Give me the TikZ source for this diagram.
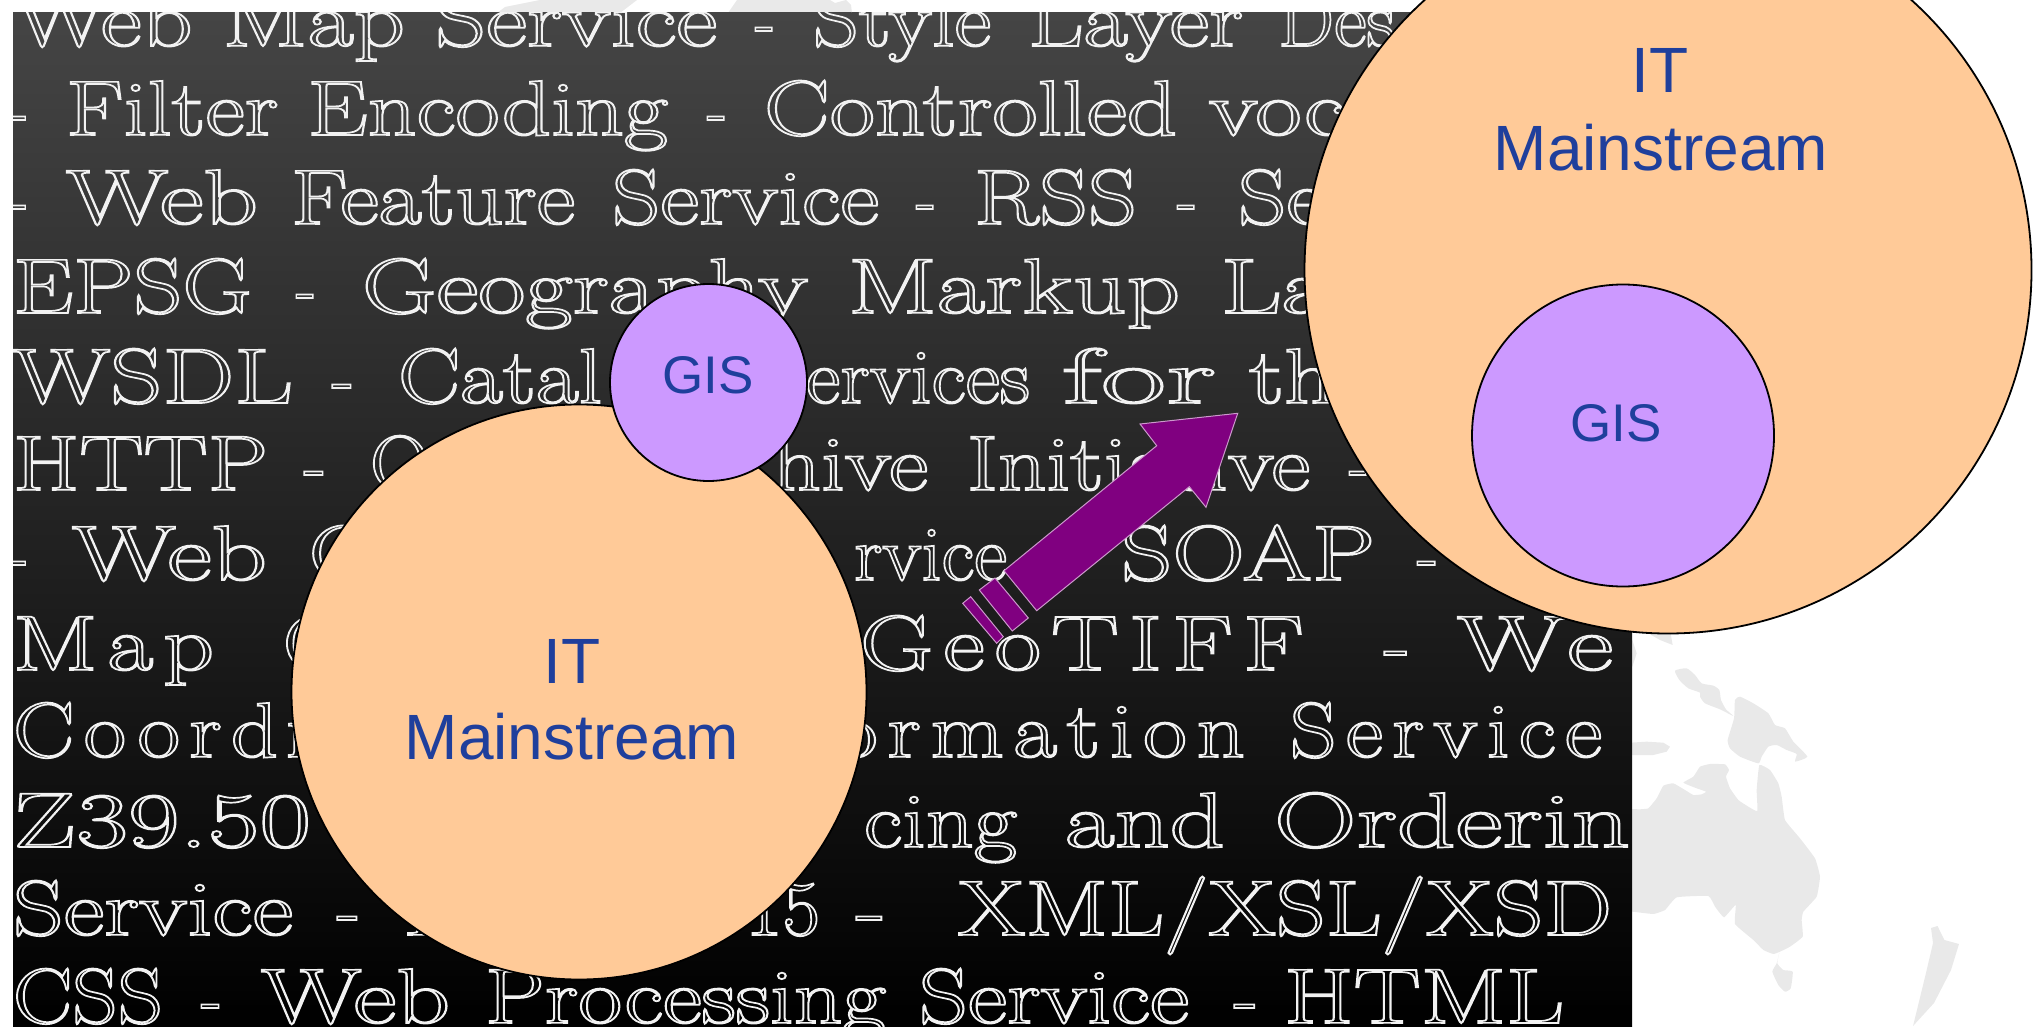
\documentclass[tikz,border=0pt]{standalone}
\usepackage{fontspec}
\usepackage{graphicx}
\setmainfont{Latin Modern Roman}
\newfontfamily\spacedfont{Latin Modern Roman}[LetterSpace=10]
\newfontfamily\labelfont{Liberation Sans}
\definecolor{bgtop}{HTML}{454545}
\definecolor{peach}{HTML}{FFCA98}
\definecolor{lilac}{HTML}{CC99FF}
\definecolor{inkblue}{HTML}{1F3F9C}
\definecolor{plum}{HTML}{800080}
\definecolor{plumedge}{HTML}{CC99CC}
\definecolor{mapgray}{HTML}{E9E9E9}
\tikzset{
 bigcircle/.style={circle,draw=black,line width=0.9pt,fill=peach,inner sep=0pt,minimum size=#1},
 gisdisc/.style={circle,draw=black,line width=0.9pt,fill=lilac,inner sep=0pt,minimum size=#1},
 bigword/.style={text=inkblue,font=\labelfont\fontsize{32}{32}\selectfont,anchor=base,inner sep=0pt},
 gisword/.style={text=inkblue,font=\labelfont\fontsize{26.5}{26.5}\selectfont,anchor=base,inner sep=0pt},
 rocket/.style={draw=plumedge,line width=0.5pt,fill=plum,line join=miter},
 land/.style={fill=mapgray,draw=none},
}
\newcounter{chn}
\newcommand\outlined[1]{\special{pdf:code q 1 Tr 0.85 w 0.95 0.95 0.95 RG}#1\special{pdf:code Q}}
\newcommand\chunk[5][\rmfamily]{%
  \stepcounter{chn}%
  \node[anchor=base west,inner sep=0pt,outer sep=0pt,text=white] (w\arabic{chn}) at (#2,#4)
    {\resizebox{\dimexpr(#3pt-#2pt)/2\relax}{\height}{\fontsize{39}{39}\selectfont#1\outlined{#5}}};}
\begin{document}
\begin{tikzpicture}[x=0.5pt,y=-0.5pt]
\useasboundingbox (0,0) rectangle (2044,1027);
\clip (0,0) rectangle (2044,1027);
% map
\fill[land] (497,13) -- (505,7) -- (530,2) -- (540,0) -- (637,0) -- (620,13) -- cycle;
\fill[land] (728,13) -- (737,0) -- (830,0) -- (835,3) -- (846,0) -- (851,5) -- (852,13) -- cycle;
\begin{scope}[shift={(1620,620)},xscale=1/3,yscale=1/3]
\fill[land] (85,40) -- (150,30) -- (158,75) -- (120,60) -- cycle;
\fill[land] (-20,40) -- (37,60) -- (50,100) -- (37,140) -- (-20,140) -- cycle;
\fill[land] plot[smooth cycle,tension=0.35] coordinates {(165,152) (200,145) (225,165) (245,190) (280,197) (298,210) (303,240) (318,268) (340,288) (300,268) (255,250) (240,230) (240,218) (205,205) (178,180)};
\fill[land] plot[smooth cycle,tension=0.3] coordinates {(345,240) (360,230) (400,250) (445,280) (465,315) (495,325) (520,365) (562,410) (525,425) (530,402) (500,390) (470,375) (445,380) (425,410) (415,430) (360,410) (330,385) (323,360) (342,295)};
\fill[land] (0,370) -- (80,365) -- (130,368) -- (150,380) -- (140,395) -- (100,405) -- (0,405) -- cycle;
\fill[land] plot[smooth cycle,tension=0.22] coordinates {(0,580) (60,568) (85,565) (110,535) (130,497) (160,490) (195,510) (220,525) (245,523) (258,515) (230,505) (190,488) (220,470) (240,440) (270,432) (315,433) (327,450) (318,470) (330,505) (355,540) (385,560) (412,573) (410,510) (418,435) (450,450) (475,490) (485,530) (495,600) (540,655) (585,715) (600,770) (590,830) (550,875) (545,900) (548,950) (510,980) (480,995) (460,1002) (430,990) (400,960) (345,912) (347,855) (312,892) (285,860) (265,828) (170,832) (135,870) (100,882) (37,875) (0,875)};
\fill[land] plot[smooth cycle,tension=0.3] coordinates {(478,998) (470,1030) (457,1055) (475,1095) (495,1115) (512,1105) (518,1055) (490,1050) (472,1030)};
\end{scope}
\fill[land] (1931,928) -- (1937.5,926) -- (1944.4,940) -- (1959,944) -- (1951,970) -- (1934,1003) -- (1913,1026) -- (1925,977) -- (1933,943) -- cycle;
% panel
\begin{scope}
\clip (13,13) rectangle (1632,1027);
\shade[top color=bgtop,bottom color=black] (13,13) rectangle (1632,1027);
\chunk{13}{717}{46}{Web Map Service}
\chunk{755}{775}{46}{-}
\chunk{813}{991}{46}{Style}
\chunk{1028}{1243}{46}{Layer}
\chunk{1278}{1395}{46}{Des}
\chunk{10}{28}{135}{-}
\chunk{66}{668}{135}{Filter Encoding}
\chunk{707}{727}{135}{-}
\chunk{764}{1177}{135}{Controlled}
\chunk{1209}{1345}{135}{voc}
\chunk{10}{28}{224}{-}
\chunk{66}{258}{224}{Web}
\chunk{291}{575}{224}{Feature}
\chunk{612}{879}{224}{Service}
\chunk{916}{936}{224}{-}
\chunk{974}{1137}{224}{RSS}
\chunk{1177}{1197}{224}{-}
\chunk{1238}{1325}{224}{Se}
\chunk{13}{252}{313}{EPSG}
\chunk{296}{316}{313}{-}
\chunk{362}{808}{313}{Geography}
\chunk{848}{1180}{313}{Markup}
\chunk{1221}{1330}{313}{La}
\chunk{13}{293}{403}{WSDL}
\chunk{332}{354}{403}{-}
\chunk{398}{602}{403}{Catal}
\chunk{806}{1030}{403}{ervices}
\chunk{1062}{1216}{403}{for}
\chunk{1249}{1335}{403}{th}
\chunk{13}{268}{490}{HTTP}
\chunk{304}{326}{490}{-}
\chunk{370}{430}{490}{O}
\chunk{772}{928}{490}{hive}
\chunk{967}{1310}{490}{Initiative}
\chunk{1349}{1369}{490}{-}
\chunk{10}{28}{580}{-}
\chunk{72}{267}{580}{Web}
\chunk{309}{370}{580}{C}
\chunk{854}{1007}{580}{rvice}
\chunk{1121}{1375}{580}{SOAP}
\chunk{1417}{1438}{580}{-}
\chunk[\spacedfont]{13}{214}{670}{Map}
\chunk{283}{345}{670}{G}
\chunk[\spacedfont]{860}{1304}{670}{GeoTIFF}
\chunk{1384}{1410}{670}{-}
\chunk[\spacedfont]{1457}{1613}{670}{We}
\chunk[\spacedfont]{13}{278}{757}{Coord}
\chunk{286}{306}{757}{i}
\chunk[\spacedfont]{834}{1245}{757}{ormation}
\chunk[\spacedfont]{1290}{1602}{757}{Service}
\chunk{13}{311}{847}{Z39.50}
\chunk{864}{1017}{847}{cing}
\chunk{1065}{1225}{847}{and}
\chunk{1274}{1630}{847}{Orderin}
\chunk{13}{293}{935}{Service}
\chunk{337}{360}{935}{-}
\chunk{403}{440}{935}{I}
\chunk{745}{820}{935}{15}
\chunk{856}{886}{935}{-}
\chunk{958}{1612}{935}{XML/XSL/XSD}
\chunk{13}{163}{1023}{CSS}
\chunk{201}{222}{1023}{-}
\chunk{261}{450}{1023}{Web}
\chunk{485}{886}{1023}{Processing}
\chunk{919}{1189}{1023}{Service}
\chunk{1234}{1258}{1023}{-}
\chunk{1284}{1564}{1023}{HTML}
\end{scope}
% left circles
\node[bigcircle=287.5pt] (itL) at (579,692) {};
\node[gisdisc=98.5pt] (gisL) at (708.5,382.5) {};
\node[bigword] (itLa) at (572,683) {IT};
\node[bigword] (itLb) at (572,759) {Mainstream};
\node[gisword] (gisLa) at (708,393) {GIS};
% right circles
\node[bigcircle=363.5pt] (itR) at (1668,270) {};
\node[gisdisc=151pt] (gisR) at (1623,435.5) {};
\node[bigword] (itRa) at (1660,93) {IT};
\node[bigword] (itRb) at (1661,171) {Mainstream};
\node[gisword] (gisRa) at (1616,441) {GIS};
% arrow
\draw[rocket] (1237.7,413.3) -- (1140,424) -- (1156.7,445.7) -- (1004,570.7) -- (1036.7,610.7) -- (1189.3,486.7) -- (1206,507.3) -- cycle;
\draw[rocket] (979.3,590) -- (995,578) -- (1028.3,618) -- (1012.3,631) -- cycle;
\draw[rocket] (962.7,603.3) -- (970.7,596.7) -- (1003.3,636.7) -- (996.7,643.3) -- cycle;
\end{tikzpicture}
\end{document}
